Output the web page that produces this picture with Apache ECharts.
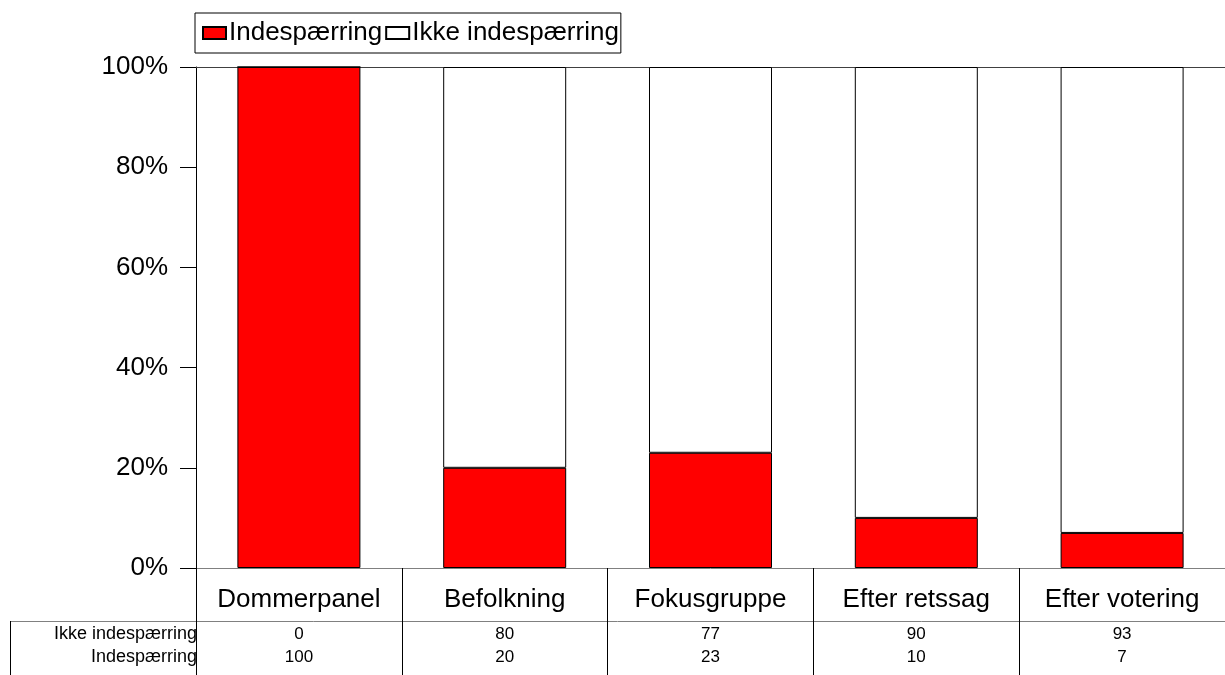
<!DOCTYPE html>
<html>
<head>
<meta charset="utf-8">
<script src="https://cdn.jsdelivr.net/npm/echarts@6/dist/echarts.min.js"></script>
<style>
  html, body { margin: 0; padding: 0; background: #fff; }
  #chart { width: 1225px; height: 675px; }
</style>
</head>
<body>
<div id="chart"></div>
<script>
  // data
  var categories = ['Dommerpanel', 'Befolkning', 'Fokusgruppe', 'Efter retssag', 'Efter votering'];
  var indesparring = [100, 20, 23, 10, 7];
  var ikkeIndesparring = [0, 80, 77, 90, 93];
  var seriesNames = ['Indespærring', 'Ikke indespærring'];

  var font = '"Liberation Sans", Arial, sans-serif';
  var chart = echarts.init(document.getElementById('chart'));

  var option = {
    animation: false,
    textStyle: { fontFamily: font, color: '#000' },
    legend: {
      left: 195,
      top: 13,
      padding: [7, 2, 7, 7],
      borderColor: '#000',
      borderWidth: 1,
      icon: 'rect',
      itemWidth: 23,
      itemHeight: 12,
      itemGap: 3,
      textStyle: { fontSize: 26, fontFamily: font, color: '#000', padding: [0, 0, 0, -2] },
      data: seriesNames
    },
    grid: { left: 196, top: 67, width: 1040, height: 501 },
    xAxis: [
      {
        type: 'category',
        position: 'bottom',
        data: categories,
        axisLine: { lineStyle: { color: '#808080', width: 1 } },
        axisTick: { show: true, interval: 0, length: 107, lineStyle: { color: '#000' } },
        axisLabel: { interval: 0, hideOverlap: false, fontSize: 26, color: '#000', margin: 19, fontFamily: font }
      },
      {
        type: 'category',
        position: 'bottom',
        data: categories,
        axisLine: { show: false },
        axisTick: { show: false },
        axisLabel: {
          interval: 0, fontSize: 17, color: '#000', margin: 58, fontFamily: font,
          formatter: function (v, i) { return String(ikkeIndesparring[i]); }
        }
      },
      {
        type: 'category',
        position: 'bottom',
        data: categories,
        axisLine: { show: false },
        axisTick: { show: false },
        axisLabel: {
          interval: 0, fontSize: 17, color: '#000', margin: 81, fontFamily: font,
          formatter: function (v, i) { return String(indesparring[i]); }
        }
      },
      {
        type: 'category',
        position: 'top',
        data: categories,
        axisLine: { lineStyle: { color: '#404040', width: 1 } },
        axisTick: { show: false },
        axisLabel: { show: false }
      }
    ],
    yAxis: {
      type: 'value',
      min: 0,
      max: 100,
      interval: 20,
      axisLine: { show: true, lineStyle: { color: '#000' } },
      axisTick: { show: true, length: 16, lineStyle: { color: '#000' } },
      splitLine: { show: false },
      axisLabel: { fontSize: 26, color: '#000', margin: 28, fontFamily: font, formatter: '{value}%' }
    },
    series: [
      {
        name: seriesNames[0],
        type: 'bar',
        stack: 'total',
        barWidth: 123,
        itemStyle: { color: '#ff0000', borderColor: '#000', borderWidth: 1 },
        data: indesparring
      },
      {
        name: seriesNames[1],
        type: 'bar',
        stack: 'total',
        barWidth: 123,
        itemStyle: { color: '#ffffff', borderColor: '#000', borderWidth: 1 },
        data: ikkeIndesparring
      }
    ],
    graphic: [
      {
        type: 'line',
        shape: { x1: 10, y1: 621.5, x2: 1225, y2: 621.5 },
        style: { stroke: '#808080', lineWidth: 1 }
      },
      {
        type: 'line',
        shape: { x1: 10.5, y1: 621, x2: 10.5, y2: 675 },
        style: { stroke: '#000', lineWidth: 1 }
      },
      {
        type: 'text',
        x: 197, y: 634,
        style: { text: seriesNames[1], font: '18px ' + font, fill: '#000', textAlign: 'right', textVerticalAlign: 'middle' }
      },
      {
        type: 'text',
        x: 197, y: 657,
        style: { text: seriesNames[0], font: '18px ' + font, fill: '#000', textAlign: 'right', textVerticalAlign: 'middle' }
      }
    ]
  };

  chart.setOption(option);
</script>
</body>
</html>
